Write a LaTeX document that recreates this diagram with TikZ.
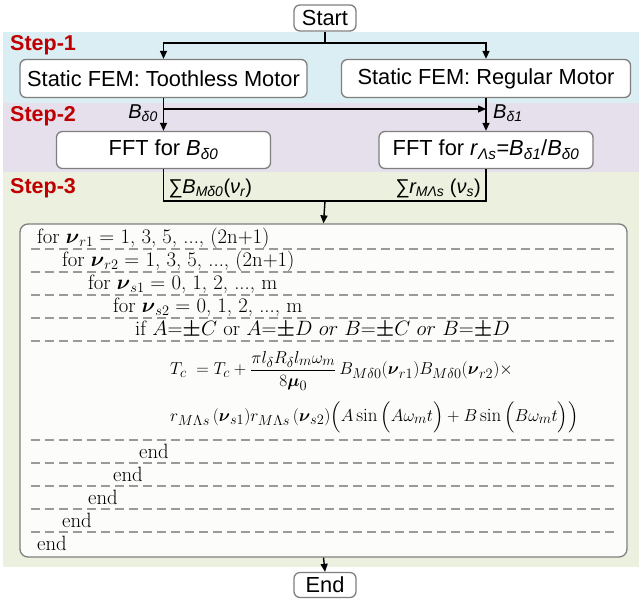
\documentclass[tikz,border=0pt]{standalone}
\usepackage{fontspec}
\usepackage{amsmath,amsbsy}
\newfontfamily\arialf{Liberation Sans}
\usetikzlibrary{arrows.meta}
\definecolor{bandA}{HTML}{DAEEF3}
\definecolor{bandB}{HTML}{E5E0EC}
\definecolor{bandC}{HTML}{EBF1DE}
\definecolor{stepred}{HTML}{C00000}
\definecolor{boxgray}{HTML}{7F7F7F}
\definecolor{dashgray}{HTML}{9A9A9A}
\definecolor{loopfill}{HTML}{FCFDFB}
\newcommand\lsub[1]{\textsubscript{#1}}
\newcommand\bpm{{\boldsymbol{\pm}}}
\begin{document}
\begin{tikzpicture}[x=1pt,y=-1pt,
  flow/.style={draw=boxgray, line width=1.3pt, rounded corners=6pt, fill=white, inner sep=0pt,
    font=\arialf\fontsize{21.8}{24}\selectfont},
  conn/.style={line width=1.4pt, black},
  arr/.style={conn, -{Triangle[length=8pt,width=7pt]}},
  steplab/.style={anchor=west, font=\arialf\bfseries\fontsize{21.5}{24}\selectfont, text=stepred, inner sep=0pt},
  lab/.style={font=\arialf\itshape\fontsize{20}{24}\selectfont, inner sep=0pt},
  row/.style={anchor=base west, inner sep=0pt, font=\fontsize{20.7}{23}\selectfont},
  frm/.style={anchor=west, inner sep=0pt, font=\fontsize{19}{22}\selectfont},
  dashline/.style={draw=dashgray, line width=1.2pt, dash pattern=on 9pt off 5pt}]
\useasboundingbox (0,0) rectangle (639,598);
% bands
\fill[bandA] (3,32) rectangle (639,103);
\fill[bandB] (3,103) rectangle (639,172);
\fill[bandC] (3,172) rectangle (639,567);
\node[steplab] (s1) at (10,45) {Step-1};
\node[steplab] (s2) at (10,116) {Step-2};
\node[steplab] (s3) at (10,188) {Step-3};
% nodes
\node[flow, minimum width=62pt, minimum height=26pt] (start) at (325,18) {Start};
\node[flow, minimum width=287pt, minimum height=38pt] (fem1) at (163.5,78.5) {Static FEM: Toothless Motor};
\node[flow, minimum width=289pt, minimum height=38pt] (fem2) at (486,78.5) {Static FEM: Regular Motor};
\node[flow, minimum width=214pt, minimum height=37pt] (fft1) at (163.5,150) {FFT for \textit{B}\lsub{\itshape δ0}};
\node[flow, minimum width=214pt, minimum height=37pt] (fft2) at (486,150) {FFT for \textit{r}\lsub{\itshape Λs}=\textit{B}\lsub{\itshape δ1}/\textit{B}\lsub{\itshape δ0}};
\node[draw=boxgray, line width=1.3pt, rounded corners=8pt, fill=loopfill, minimum width=607pt, minimum height=333pt, inner sep=0pt] (loop) at (323.5,390.5) {};
\node[flow, minimum width=62pt, minimum height=25pt] (end) at (325,585) {End};
% connectors
\coordinate (split1) at (325,43);
\draw[conn] (start.south) -- (split1);
\draw[arr] (split1) -| (fem1.north);
\draw[arr] (split1) -| (fem2.north);
\draw[arr] (fem1.south) -- (fft1.north);
\coordinate (branch) at (163.5,109);
\draw[arr] (branch) -- (branch -| fem2.south);
\draw[arr] (fem2.south) -- (fft2.north);
\coordinate (join) at (325,201);
\draw[conn] (fft1.south) -- (fft1.south |- join) -- (fft2.south |- join) -- (fft2.south);
\draw[arr] (join) -- (loop.north);
\draw[arr] (loop.south) -- (end.north);
% labels
\node[lab, anchor=east] (lb0) at (158,113) {B\lsub{δ0}};
\node[lab, anchor=west] (lb1) at (493,113) {B\lsub{δ1}};
\node[lab, anchor=west] (ls1) at (168,188) {∑B\lsub{Mδ0}{\upshape(}ν\lsub{r}{\upshape)}};
\node[lab, anchor=east] (ls2) at (481,188) {∑r\lsub{MΛs} {\upshape(}ν\lsub{s}{\upshape)}};
% loop content
\node[row] (r1) at (37,243) {for $\boldsymbol{\nu}_{r1} =$ 1, 3, 5, ..., (2n+1)};
\node[row] (r2) at (62,266) {for $\boldsymbol{\nu}_{r2} =$ 1, 3, 5, ..., (2n+1)};
\node[row] (r3) at (88,289) {for $\boldsymbol{\nu}_{s1} =$ 0, 1, 2, ..., m};
\node[row] (r4) at (113,312) {for $\boldsymbol{\nu}_{s2} =$ 0, 1, 2, ..., m};
\node[row] (r5) at (135,335) {if $A{=}\bpm C$ or $A{=}\bpm D$ $or$ $B{=}\bpm C$ $or$ $B{=}\bpm D$};
\node[frm] (f1) at (170,371) {$T_c\; = T_c + \dfrac{\pi l_\delta R_\delta l_m \omega_m}{8\boldsymbol{\mu}_0}\, B_{M\delta0}(\boldsymbol{\nu}_{r1})B_{M\delta0}(\boldsymbol{\nu}_{r2})\times$};
\node[frm] (f2) at (170,417) {$r_{M\Lambda s}\,(\boldsymbol{\nu}_{s1})r_{M\Lambda s}\,(\boldsymbol{\nu}_{s2})\Big(A\sin\Big(A\omega_m t\Big)+B\sin\Big(B\omega_m t\Big)\Big)$};
\node[row] (e1) at (139,458) {end};
\node[row] (e2) at (113,481) {end};
\node[row] (e3) at (88,504) {end};
\node[row] (e4) at (62,527) {end};
\node[row] (e5) at (37,550) {end};
\foreach \yy in {249,272,295,318,341,440,463,486,509,532}
  \draw[dashline] (31,\yy) -- (617,\yy);
\end{tikzpicture}
\end{document}
